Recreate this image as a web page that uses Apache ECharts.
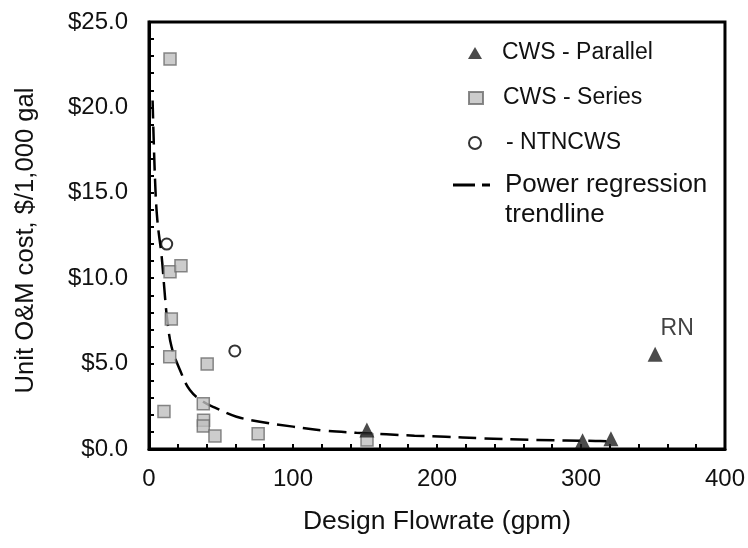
<!DOCTYPE html>
<html><head><meta charset="utf-8">
<script src="https://cdn.jsdelivr.net/npm/echarts@6/dist/echarts.min.js"></script>
<style>html,body{margin:0;padding:0;background:#fff}#c{width:748px;height:548px}</style>
</head><body><div id="c"></div>
<script>
// ---- data ----
const parallelFlow = [151.3, 301.1, 320.8, 351.5];
const parallelCost = [1.11, 0.48, 0.60, 5.55];
const parallelLabels = ['', '', '', 'RN'];

const seriesFlow = [14.6, 10.4, 14.6, 22.2, 15.5, 14.4, 40.4, 37.7, 37.9, 37.7, 45.8, 75.8, 151.4];
const seriesCost = [22.83, 2.20, 10.38, 10.73, 7.61, 5.40, 4.98, 2.65, 1.68, 1.35, 0.76, 0.90, 0.53];

const ntncwsFlow = [12.3, 59.6];
const ntncwsCost = [12.0, 5.74];

const trendFlow = [2.5, 4.2, 5.8, 8.8, 11.1, 12.7, 15.7, 21.5, 28.4, 37.7, 46.9, 60.8, 77, 100, 122, 144, 164.8, 184.4, 206, 229.5, 268.8, 310, 320.8];
const trendCost = [20.4, 15.75, 13.4, 11.26, 8.92, 7.55, 5.97, 4.63, 3.45, 2.77, 2.38, 1.89, 1.6, 1.31, 1.07, 0.95, 0.86, 0.78, 0.72, 0.63, 0.53, 0.47, 0.45];

const xTickLabels = ['0', '100', '200', '300', '400'];
const yTickLabels = ['$0.0', '$5.0', '$10.0', '$15.0', '$20.0', '$25.0'];

const names = ['CWS - Parallel', 'CWS - Series', '- NTNCWS', 'Power regression'];
const xTitle = 'Design Flowrate (gpm)';
const yTitle = 'Unit O&M cost, $/1,000 gal';

// ---- chart ----
const FF = "'Liberation Sans', Arial, sans-serif";
const zip = (a, b) => a.map((v, i) => [v, b[i]]);

const parallelData = parallelFlow.map((x, i) => {
  const item = { value: [x, parallelCost[i]] };
  if (parallelLabels[i]) {
    item.label = { show: true, formatter: parallelLabels[i], position: 'top', offset: [22, -2],
      fontFamily: FF, fontSize: 23, color: '#111' };
  }
  return item;
});

const legBase = {
  orient: 'vertical', itemWidth: 14, itemHeight: 12, selectedMode: false, left: 468, padding: 0,
  textStyle: { fontFamily: FF, fontSize: 23, color: '#111', lineHeight: 26, padding: [0, 0, 0, 15] }
};

const chart = echarts.init(document.getElementById('c'), null, { renderer: 'canvas' });
chart.setOption({
  animation: false,
  backgroundColor: '#fff',
  grid: { left: 149, right: 22, top: 22, bottom: 99, show: true, borderColor: '#000', borderWidth: 3, backgroundColor: 'transparent' },
  xAxis: {
    type: 'value', min: 0, max: 400, interval: 100,
    name: xTitle, nameLocation: 'middle', nameGap: 59,
    nameTextStyle: { fontFamily: FF, fontSize: 26.5, color: '#111' },
    axisLine: { show: true, lineStyle: { color: '#000', width: 3 } },
    axisTick: { show: true, inside: true, length: 5, lineStyle: { color: '#000', width: 2 } },
    minorTick: { show: true, splitNumber: 5, length: 5, lineStyle: { color: '#000', width: 2 } },
    splitLine: { show: false },
    axisLabel: { margin: 18, fontFamily: FF, fontSize: 24, color: '#111',
      formatter: v => xTickLabels[Math.round(v / 100)] }
  },
  yAxis: {
    type: 'value', min: 0, max: 25, interval: 5,
    name: yTitle, nameLocation: 'middle', nameGap: 110, nameRotate: 90,
    nameTextStyle: { fontFamily: FF, fontSize: 25.6, color: '#111', padding: [0, 10, 0, 0] },
    axisLine: { show: true, lineStyle: { color: '#000', width: 3 } },
    axisTick: { show: true, inside: true, length: 5, lineStyle: { color: '#000', width: 2 } },
    minorTick: { show: true, splitNumber: 5, length: 5, lineStyle: { color: '#000', width: 2 } },
    splitLine: { show: false },
    axisLabel: { margin: 21, fontFamily: FF, fontSize: 24, color: '#111',
      formatter: v => yTickLabels[Math.round(v / 5)] }
  },
  legend: [
    Object.assign({}, legBase, { top: 40, data: [names[0]] }),
    Object.assign({}, legBase, { top: 85, data: [names[1]] }),
    Object.assign({}, legBase, { top: 130, data: [names[2]], textStyle: Object.assign({}, legBase.textStyle, { padding: [0, 0, 0, 19] }) }),
    {
      orient: 'vertical', itemWidth: 37, itemHeight: 12, selectedMode: false, left: 453, top: 171, padding: 0,
      textStyle: { fontFamily: FF, fontSize: 26, color: '#111', lineHeight: 28, padding: [0, 0, 0, 10] },
      data: [{ name: names[3], icon: 'path://M0,0H22V3H0Z M29,0H37V3H29Z', itemStyle: { color: '#000', borderWidth: 0 } }]
    }
  ],
  graphic: [
    { type: 'text', left: 505, top: 201, style: { text: 'trendline', font: '26px ' + FF, fill: '#111', lineHeight: 28 } }
  ],
  series: [
    {
      name: names[3], type: 'line', data: zip(trendFlow, trendCost), showSymbol: false, symbol: 'none',
      smooth: 0.4, color: '#000', z: 1,
      lineStyle: { color: '#000', width: 2.5, type: [18, 8] }
    },
    {
      name: names[1], type: 'scatter', data: zip(seriesFlow, seriesCost), symbol: 'rect', symbolSize: 12, z: 3,
      itemStyle: { color: '#bfbfbf', borderColor: '#6b6b6b', borderWidth: 1.5 }
    },
    {
      name: names[2], type: 'scatter', data: zip(ntncwsFlow, ntncwsCost), symbol: 'circle', symbolSize: 11, z: 3,
      itemStyle: { color: '#fff', borderColor: '#000', borderWidth: 2 }
    },
    {
      name: names[0], type: 'scatter', data: parallelData, symbol: 'triangle', symbolSize: 15, z: 4,
      itemStyle: { color: '#1e1e1e' }
    }
  ]
});
</script>
</body></html>
